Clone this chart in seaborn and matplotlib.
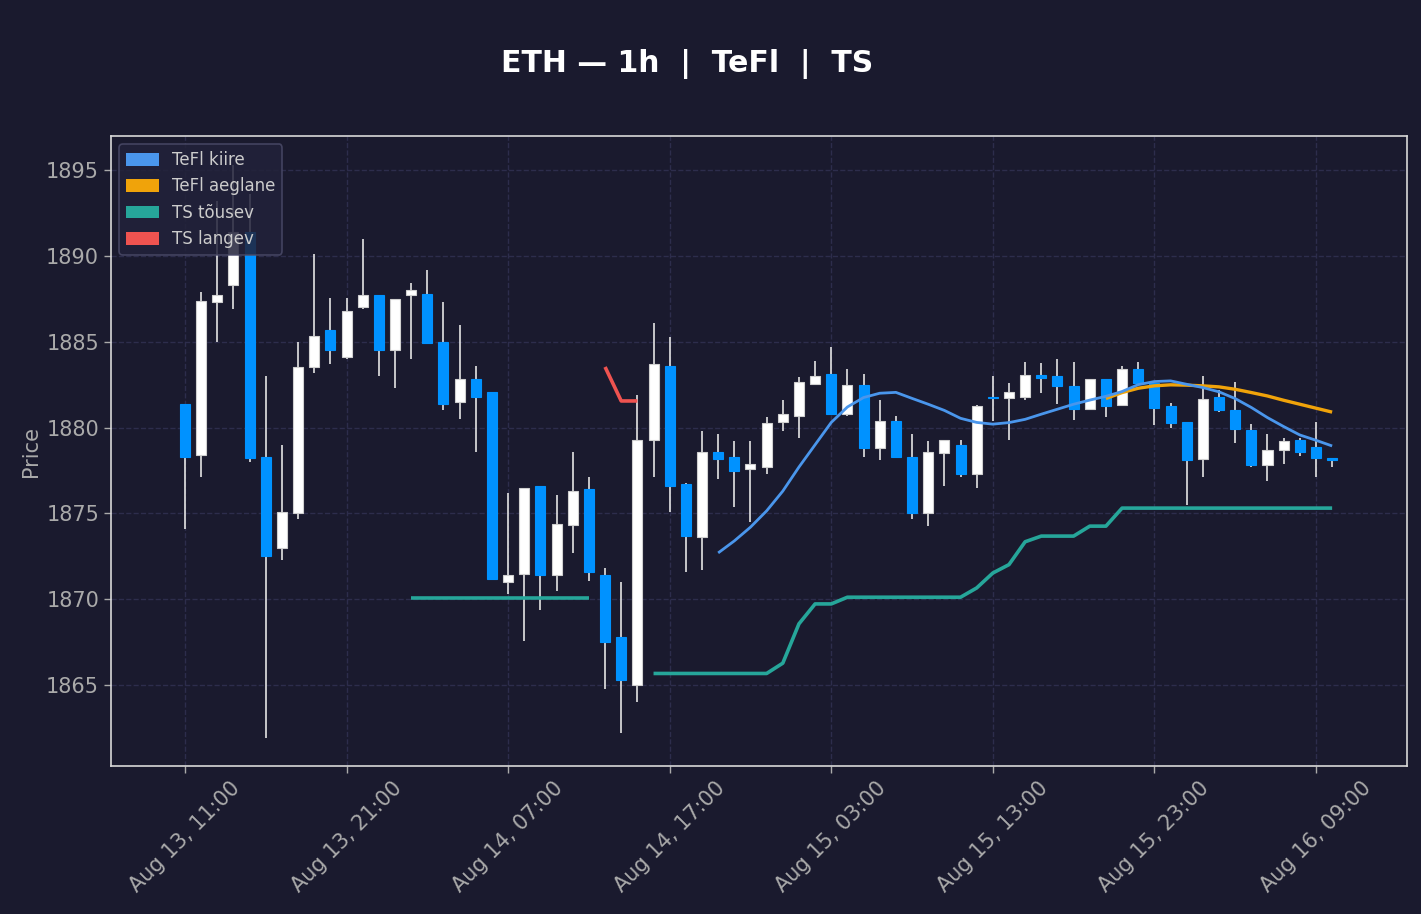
import numpy as np
import pandas as pd
import matplotlib
matplotlib.use("Agg")
import matplotlib.pyplot as plt
import matplotlib.dates as mdates
from matplotlib.patches import Patch
import seaborn as sns

BG = "#1a1a2e"
UP_COLOR = "white"
DOWN_COLOR = "#0092ff"
WICK_COLOR = "#e4e4e4"
FAST_COLOR = "#4a96ec"
SLOW_COLOR = "#f0a30a"
TS_UP_COLOR = "#26a69a"
TS_DOWN_COLOR = "#ef5350"
TEXT_COLOR = "#aaaaaa"

# hourly candles, first one at Aug 13 11:00
START = "2023-08-13 11:00"

OPEN = [1881.4, 1878.4, 1887.3, 1888.3, 1891.4, 1878.3, 1873.0, 1875.0, 1883.5, 1885.7,
        1884.1, 1887.0, 1887.7, 1884.5, 1887.7, 1887.75, 1885.0, 1881.5, 1882.8, 1882.1,
        1871.0, 1871.5, 1876.6, 1871.4, 1874.3, 1876.4, 1871.4, 1867.8, 1865.0, 1879.3,
        1883.6, 1876.7, 1873.6, 1878.55, 1878.3, 1877.6, 1877.7, 1880.3, 1880.7, 1882.55,
        1883.1, 1880.8, 1882.5, 1878.8, 1880.4, 1878.3, 1875.0, 1878.5, 1879.0, 1877.3,
        1881.8, 1881.7, 1881.8, 1883.05, 1883.0, 1882.45, 1881.1, 1882.8, 1881.3, 1883.4,
        1882.6, 1881.25, 1880.3, 1878.15, 1881.8, 1881.05, 1879.85, 1877.8, 1878.7, 1879.25,
        1878.85, 1878.15]
HIGH = [1881.4, 1887.9, 1893.2, 1895.3, 1893.6, 1883.0, 1879.0, 1885.0, 1890.1, 1887.55,
        1887.55, 1891.0, 1887.7, 1887.5, 1888.4, 1889.2, 1887.3, 1886.0, 1883.6, 1882.1,
        1876.2, 1876.5, 1876.6, 1876.1, 1878.6, 1877.1, 1871.8, 1871.0, 1881.9, 1886.1,
        1885.3, 1876.8, 1879.8, 1879.6, 1879.2, 1879.2, 1880.6, 1881.6, 1882.95, 1883.9,
        1884.7, 1883.4, 1883.1, 1881.6, 1880.7, 1879.6, 1879.2, 1879.3, 1879.3, 1881.3,
        1883.0, 1882.6, 1883.8, 1883.75, 1884.0, 1883.8, 1882.8, 1882.8, 1883.6, 1883.8,
        1882.6, 1881.45, 1880.35, 1883.0, 1882.2, 1882.65, 1880.2, 1879.65, 1879.4, 1879.4,
        1880.3, 1878.2]
LOW = [1874.1, 1877.1, 1885.0, 1886.9, 1878.0, 1861.9, 1872.3, 1874.7, 1883.2, 1883.7,
       1884.0, 1886.9, 1883.0, 1882.3, 1884.0, 1884.9, 1881.0, 1880.5, 1878.55, 1871.1,
       1870.3, 1867.6, 1869.4, 1870.5, 1872.7, 1871.05, 1864.8, 1862.2, 1864.0, 1877.15,
       1875.1, 1871.6, 1871.7, 1877.0, 1875.4, 1874.5, 1877.3, 1879.8, 1879.4, 1882.5,
       1880.75, 1880.7, 1878.3, 1878.1, 1878.2, 1874.65, 1874.25, 1876.6, 1877.15, 1876.5,
       1880.4, 1879.3, 1881.6, 1882.0, 1881.35, 1880.45, 1881.1, 1880.6, 1881.3, 1882.6,
       1880.15, 1880.0, 1875.5, 1877.1, 1880.9, 1879.1, 1877.7, 1876.9, 1877.9, 1878.35,
       1877.15, 1877.7]
CLOSE = [1878.3, 1887.35, 1887.7, 1891.4, 1878.2, 1872.5, 1875.1, 1883.5, 1885.35, 1884.5,
         1886.8, 1887.7, 1884.5, 1887.5, 1888.0, 1884.95, 1881.4, 1882.8, 1881.8, 1871.2,
         1871.4, 1876.5, 1871.4, 1874.4, 1876.3, 1871.6, 1867.5, 1865.3, 1879.3, 1883.7,
         1876.6, 1873.7, 1878.6, 1878.15, 1877.5, 1877.9, 1880.25, 1880.8, 1882.65, 1883.0,
         1880.8, 1882.5, 1878.8, 1880.4, 1878.3, 1875.0, 1878.6, 1879.25, 1877.3, 1881.25,
         1881.7, 1882.07, 1883.05, 1882.9, 1882.4, 1881.1, 1882.8, 1881.25, 1883.4, 1882.6,
         1881.15, 1880.25, 1878.1, 1881.65, 1881.0, 1879.9, 1877.8, 1878.7, 1879.2, 1878.55,
         1878.25, 1878.1]

TEFL_FAST = [None] * 33 + [
    1872.7, 1873.4, 1874.2, 1875.15, 1876.3, 1877.7, 1879.0, 1880.3, 1881.2, 1881.75,
    1882.0, 1882.05, 1881.7, 1881.36, 1881.0, 1880.54, 1880.3, 1880.2, 1880.29, 1880.48,
    1880.78, 1881.07, 1881.36, 1881.6, 1881.82, 1882.1, 1882.5, 1882.68, 1882.72, 1882.52,
    1882.33, 1882.08, 1881.69, 1881.17, 1880.58, 1880.06, 1879.57, 1879.26, 1878.93]
TEFL_SLOW = [None] * 57 + [
    1881.69, 1882.04, 1882.29, 1882.43, 1882.49, 1882.47, 1882.43, 1882.37, 1882.23,
    1882.04, 1881.84, 1881.59, 1881.36, 1881.13, 1880.9]
TS_UP = [None] * 14 + [
    1870.1, 1870.1, 1870.1, 1870.1, 1870.1, 1870.1, 1870.1, 1870.1, 1870.1, 1870.1,
    1870.1, 1870.1, None, None, None,
    1865.68, 1865.68, 1865.68, 1865.68, 1865.68, 1865.68, 1865.68, 1865.68, 1866.28,
    1868.57, 1869.73, 1869.73, 1870.12, 1870.12, 1870.12, 1870.12, 1870.12, 1870.12,
    1870.12, 1870.12, 1870.66, 1871.53, 1872.02, 1873.35, 1873.68, 1873.68, 1873.68,
    1874.26, 1874.26, 1875.31, 1875.31, 1875.31, 1875.31, 1875.31, 1875.31, 1875.31,
    1875.31, 1875.31, 1875.31, 1875.31, 1875.31, 1875.31, 1875.31]
TS_DOWN = [None] * 26 + [1883.53, 1881.55, 1881.55] + [None] * 43

LEGEND_LABELS = ["TeFl kiire", "TeFl aeglane", "TS tõusev", "TS langev"]


def segments(times, values):
    # split a series with gaps into contiguous pieces
    s = pd.Series(values, index=times, dtype=float)
    grp = s.isna().cumsum()
    out = []
    for _, part in s[s.notna()].groupby(grp[s.notna()]):
        out.append(part)
    return out


def draw_line(ax, times, values, color, lw):
    for part in segments(times, values):
        sns.lineplot(x=part.index, y=part.values, ax=ax, color=color, linewidth=lw,
                     zorder=4, solid_capstyle="butt")


def main():
    sns.set_theme(style="dark")
    plt.rcParams["font.family"] = ["DejaVu Sans"]

    times = pd.date_range(START, periods=len(OPEN), freq="h")
    df = pd.DataFrame({"time": times, "open": OPEN, "high": HIGH,
                       "low": LOW, "close": CLOSE})

    fig = plt.figure(figsize=(14.21, 9.14), dpi=100, facecolor=BG)
    ax = fig.add_axes([0.0781, 0.1619, 0.912, 0.6893])
    ax.set_facecolor(BG)

    # candles
    up = df["close"] >= df["open"]
    bottom = np.minimum(df["open"], df["close"])
    height = np.maximum((df["close"] - df["open"]).abs(), 0.1)
    width = 0.62 / 24
    ax.vlines(df["time"], df["low"], df["high"], color=WICK_COLOR, lw=1.2, zorder=2)
    ax.bar(df["time"][up], height[up], bottom=bottom[up], width=width,
           color=UP_COLOR, edgecolor="#d0d0d0", linewidth=0.8, zorder=3)
    ax.bar(df["time"][~up], height[~up], bottom=bottom[~up], width=width,
           color=DOWN_COLOR, edgecolor=DOWN_COLOR, linewidth=0.8, zorder=3)

    # indicator lines
    draw_line(ax, times, TS_UP, TS_UP_COLOR, 2.6)
    draw_line(ax, times, TS_DOWN, TS_DOWN_COLOR, 2.6)
    draw_line(ax, times, TEFL_SLOW, SLOW_COLOR, 2.4)
    draw_line(ax, times, TEFL_FAST, FAST_COLOR, 2.0)

    ax.set_xlim(times[0] - pd.Timedelta(hours=4.58), times[0] + pd.Timedelta(hours=75.63))
    ax.set_ylim(1860.29, 1896.98)
    ax.set_yticks(np.arange(1865, 1896, 5))
    ax.set_xticks(times[::10])
    ax.xaxis.set_major_formatter(mdates.DateFormatter("%b %d, %H:%M"))
    ax.tick_params(axis="x", labelrotation=45, colors=TEXT_COLOR, labelsize=15,
                   length=5, width=1, direction="out", bottom=True)
    ax.tick_params(axis="y", colors=TEXT_COLOR, labelsize=15, length=5, width=1,
                   direction="out", left=True)
    for lbl in ax.get_xticklabels():
        lbl.set_ha("center")

    ax.grid(True, linestyle="--", color="#2d2d4c", linewidth=1.0)
    for spine in ax.spines.values():
        spine.set_color("#d8d8d8")
        spine.set_linewidth(1.2)

    ax.set_xlabel("")
    ax.set_ylabel("Price", color=TEXT_COLOR, fontsize=15)

    handles = [Patch(facecolor=c, edgecolor="none", label=l) for c, l in
               zip([FAST_COLOR, SLOW_COLOR, TS_UP_COLOR, TS_DOWN_COLOR], LEGEND_LABELS)]
    leg = ax.legend(handles=handles, loc="upper left", fontsize=12,
                    facecolor="#22223a", edgecolor="#4a4a68", framealpha=0.85,
                    labelcolor="#cccccc", handlelength=2.0, handleheight=0.8,
                    labelspacing=0.5, handletextpad=0.75)
    leg.get_frame().set_linewidth(1.2)

    fig.text(0.4835, 0.93, "ETH — 1h  |  TeFl  |  TS", ha="center", va="center",
             color="white", fontsize=21.5, fontweight="bold")

    fig.savefig("out.png", dpi=100, facecolor=BG)
    plt.close(fig)


if __name__ == "__main__":
    main()
